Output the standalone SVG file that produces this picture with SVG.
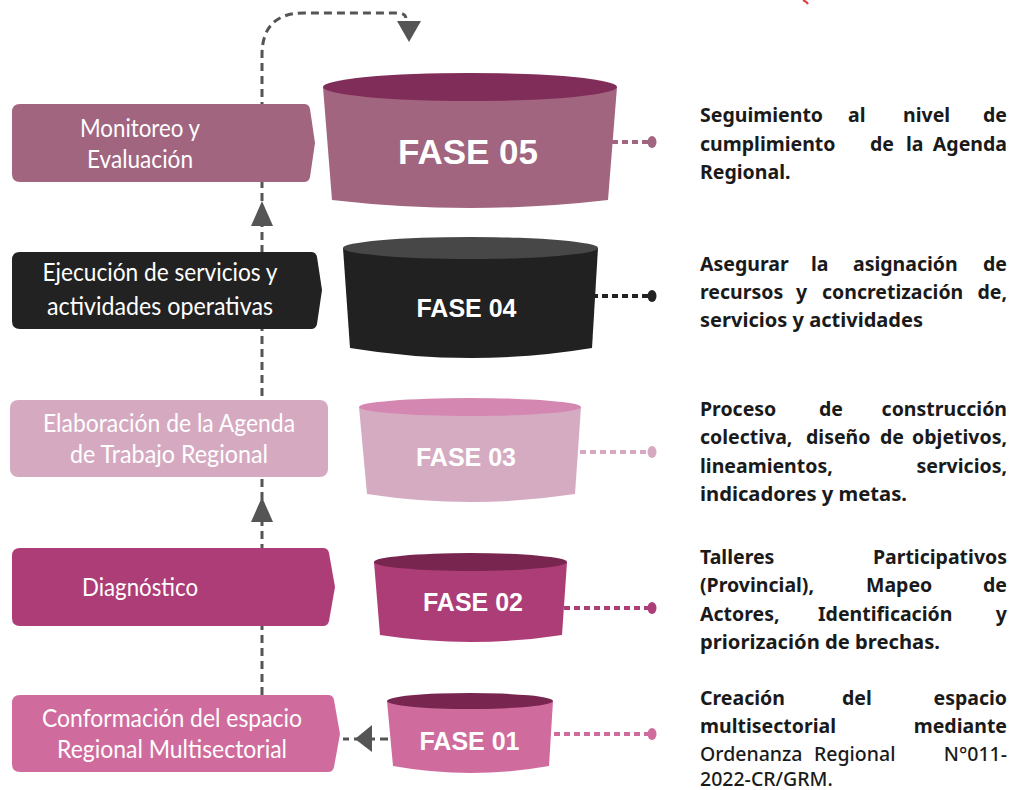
<svg xmlns="http://www.w3.org/2000/svg" width="1013" height="790" viewBox="0 0 1013 790">
<defs>
<style>
.lbl{font-family:Lato,"Noto Sans",sans-serif;font-size:25px;fill:#fff;text-anchor:middle}
.fase{font-family:"Liberation Sans",Arial,sans-serif;font-weight:bold;fill:#fff;text-anchor:middle}
.desc{font-family:"Noto Sans","Open Sans",sans-serif;font-size:19.5px;font-weight:700;fill:#1a1a1a}
.descn{font-family:"Noto Sans","Open Sans",sans-serif;font-size:19.5px;font-weight:500;fill:#1a1a1a}
.e{text-anchor:end}
.flow{fill:none;stroke:#555;stroke-width:3;stroke-dasharray:8 5}
.dot{fill:none;stroke-width:4;stroke-dasharray:6 4}
.ah{fill:#555}
</style>
</defs>
<rect width="1013" height="790" fill="#fff"/>
<path d="M803 0 Q807 2 808 4" fill="none" stroke="#e03a3e" stroke-width="2"/>

<g id="connectors">
<path class="flow" d="M262 695 V55 Q262 13 304 13 H398 Q405 13 406 18"/>
<polygon class="ah" points="397,21 421,21 409,42"/>
<polygon class="ah" points="262,201 251,226 273,226"/>
<polygon class="ah" points="262,497 251,522 273,522"/>
<path class="flow" d="M388 739 H343"/>
<polygon class="ah" points="355,739 372,725 372,752"/>
<path class="dot" stroke="#a1657f" d="M612 142 H648"/><ellipse cx="652" cy="142" rx="4.5" ry="6" fill="#a1657f"/>
<path class="dot" stroke="#222" d="M592 296 H648"/><ellipse cx="652" cy="296" rx="4.5" ry="6" fill="#222"/>
<path class="dot" stroke="#d6a9c0" d="M580 452 H648"/><ellipse cx="652" cy="452" rx="4.5" ry="6" fill="#d6a9c0"/>
<path class="dot" stroke="#ad3d76" d="M564 608 H648"/><ellipse cx="652" cy="608" rx="4.5" ry="6" fill="#ad3d76"/>
<path class="dot" stroke="#cf6c9d" d="M554 734 H648"/><ellipse cx="652" cy="734" rx="4.5" ry="6" fill="#cf6c9d"/>
</g>

<g id="box-monitoreo">
<path fill="#a1657f" d="M20 104 H304 Q309 104 310 109 L315 143 L310 177 Q309 182 304 182 H20 Q12 182 12 174 V112 Q12 104 20 104 Z"/>
<text class="lbl" x="140" y="137" textLength="120" lengthAdjust="spacingAndGlyphs">Monitoreo y</text>
<text class="lbl" x="140" y="168" textLength="106" lengthAdjust="spacingAndGlyphs">Evaluación</text>
</g>
<g id="box-ejecucion">
<path fill="#222" d="M20 252 H311 Q316 252 317 257 L322 290 L317 324 Q316 329 311 329 H20 Q12 329 12 321 V260 Q12 252 20 252 Z"/>
<text class="lbl" x="160" y="281" textLength="235" lengthAdjust="spacingAndGlyphs">Ejecución de servicios y</text>
<text class="lbl" x="160" y="315" textLength="226" lengthAdjust="spacingAndGlyphs">actividades operativas</text>
</g>
<g id="box-elaboracion">
<rect x="10" y="400" width="318" height="77" rx="8" fill="#d5aac1"/>
<text class="lbl" x="169" y="432" textLength="252" lengthAdjust="spacingAndGlyphs">Elaboración de la Agenda</text>
<text class="lbl" x="169" y="463" textLength="198" lengthAdjust="spacingAndGlyphs">de Trabajo Regional</text>
</g>
<g id="box-diagnostico">
<path fill="#ad3d76" d="M20 548 H323 Q328 548 329 553 L335 587 L329 621 Q328 626 323 626 H20 Q12 626 12 618 V556 Q12 548 20 548 Z"/>
<text class="lbl" x="140" y="596" textLength="116" lengthAdjust="spacingAndGlyphs">Diagnóstico</text>
</g>
<g id="box-conformacion">
<path fill="#cf6c9d" d="M20 695 H328 Q333 695 334 700 L340 734 L334 767 Q333 772 328 772 H20 Q12 772 12 764 V703 Q12 695 20 695 Z"/>
<text class="lbl" x="172" y="727" textLength="260" lengthAdjust="spacingAndGlyphs">Conformación del espacio</text>
<text class="lbl" x="172" y="758" textLength="230" lengthAdjust="spacingAndGlyphs">Regional Multisectorial</text>
</g>

<g id="fase05">
<path fill="#a1657f" d="M323 87 L332 200 Q470 216 608 200 L617 87 Z"/>
<ellipse cx="470" cy="87" rx="147" ry="14" fill="#812d59"/>
<text class="fase" x="468" y="164" font-size="35">FASE 05</text>
</g>
<g id="fase04">
<path fill="#212121" d="M343 248 L350 348 Q471 368 592 348 L598 248 Z"/>
<ellipse cx="470.5" cy="248" rx="127.5" ry="11" fill="#474747"/>
<text class="fase" x="466.5" y="317" font-size="25">FASE 04</text>
</g>
<g id="fase03">
<path fill="#d5abc2" d="M359 407 L367 494 Q471 510 575 494 L581 407 Z"/>
<ellipse cx="470" cy="407" rx="111" ry="9" fill="#d487b0"/>
<text class="fase" x="466" y="466" font-size="25">FASE 03</text>
</g>
<g id="fase02">
<path fill="#ad3d76" d="M374 562 L380 635 Q471 649 562 635 L567 562 Z"/>
<ellipse cx="470.5" cy="562" rx="96.5" ry="9" fill="#78264f"/>
<text class="fase" x="473" y="611" font-size="25">FASE 02</text>
</g>
<g id="fase01">
<path fill="#cf6c9d" d="M387 701 L393 766 Q471 780 549 766 L553 701 Z"/>
<ellipse cx="470" cy="701" rx="83" ry="8" fill="#78264f"/>
<text class="fase" x="469.5" y="750" font-size="25">FASE 01</text>
</g>

<g id="desc05">
<text class="desc" y="122"><tspan x="700">Seguimiento</tspan><tspan x="848">al</tspan><tspan x="903">nivel</tspan><tspan class="e" x="1007">de</tspan></text>
<text class="desc" y="151"><tspan x="700">cumplimiento</tspan><tspan x="870">de</tspan><tspan x="906">la</tspan><tspan class="e" x="1007">Agenda</tspan></text>
<text class="desc" x="700" y="179">Regional.</text>
</g>
<g id="desc04">
<text class="desc" y="271"><tspan x="700">Asegurar</tspan><tspan x="811">la</tspan><tspan x="853">asignación</tspan><tspan class="e" x="1007">de</tspan></text>
<text class="desc" y="299"><tspan x="700">recursos</tspan><tspan x="796">y</tspan><tspan x="822">concretización</tspan><tspan class="e" x="1007">de,</tspan></text>
<text class="desc" x="700" y="327" textLength="223" lengthAdjust="spacingAndGlyphs">servicios y actividades</text>
</g>
<g id="desc03">
<text class="desc" y="416"><tspan x="700">Proceso</tspan><tspan x="819">de</tspan><tspan class="e" x="1007">construcción</tspan></text>
<text class="desc" y="444"><tspan x="700">colectiva,</tspan><tspan x="806">diseño</tspan><tspan x="880">de</tspan><tspan class="e" x="1007">objetivos,</tspan></text>
<text class="desc" y="473"><tspan x="700">lineamientos,</tspan><tspan class="e" x="1007">servicios,</tspan></text>
<text class="desc" x="700" y="501" textLength="207" lengthAdjust="spacingAndGlyphs">indicadores y metas.</text>
</g>
<g id="desc02">
<text class="desc" y="564"><tspan x="700">Talleres</tspan><tspan class="e" x="1007">Participativos</tspan></text>
<text class="desc" y="592"><tspan x="700">(Provincial),</tspan><tspan x="866">Mapeo</tspan><tspan class="e" x="1007">de</tspan></text>
<text class="desc" y="621"><tspan x="700">Actores,</tspan><tspan x="818">Identificación</tspan><tspan class="e" x="1007">y</tspan></text>
<text class="desc" x="700" y="649" textLength="240" lengthAdjust="spacingAndGlyphs">priorización de brechas.</text>
</g>
<g id="desc01">
<text class="desc" y="705"><tspan x="700">Creación</tspan><tspan x="842">del</tspan><tspan class="e" x="1007">espacio</tspan></text>
<text class="desc" y="733"><tspan x="700">multisectorial</tspan><tspan class="e" x="1007">mediante</tspan></text>
<text class="descn" y="761"><tspan x="700">Ordenanza</tspan><tspan x="814">Regional</tspan><tspan class="e" x="1007">N°011-</tspan></text>
<text class="descn" x="700" y="786">2022-CR/GRM.</text>
</g>
</svg>
